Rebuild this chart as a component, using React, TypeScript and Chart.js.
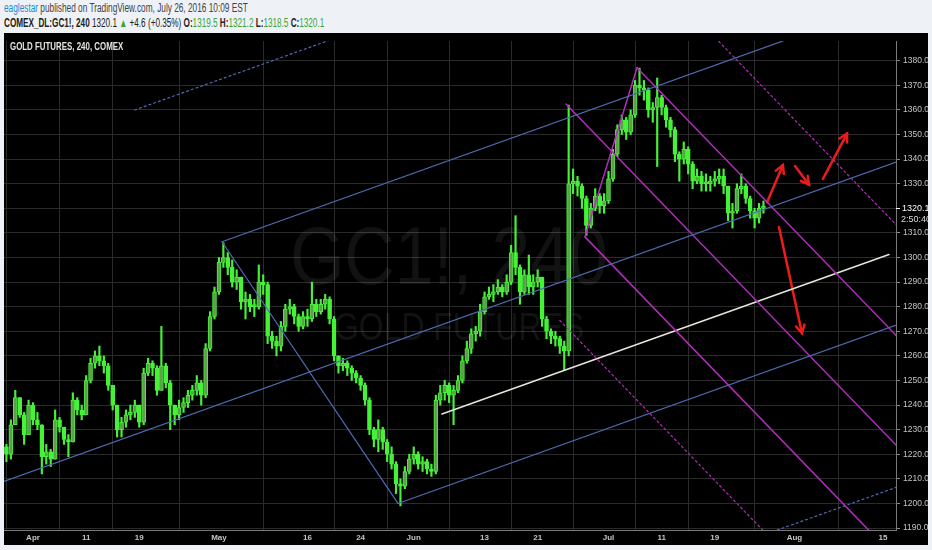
import React, { useEffect, useRef } from "react";
import { Chart, registerables } from "chart.js";

Chart.register(...registerables);

// ---- time axis: trading-session index (0 = Apr 1 2016), two bars per session ----
const barStartIndex = -3;
const barsPerSession = 2;

const firstOpen = 1223;
const closes = [
  1220, 1232, 1243, 1236, 1228, 1240, 1234, 1232, 1219, 1221,
  1218, 1234, 1231, 1226, 1225, 1242, 1238, 1236, 1250, 1257,
  1260, 1258, 1256, 1248, 1240, 1230, 1233, 1236, 1237, 1240,
  1233, 1253, 1257, 1255, 1246, 1256, 1249, 1240, 1236, 1239,
  1241, 1244, 1246, 1249, 1244, 1263, 1276, 1286, 1298, 1300,
  1296, 1290, 1292, 1282, 1283, 1280, 1280, 1290, 1289, 1268,
  1266, 1264, 1272, 1279, 1280, 1276, 1272, 1276, 1275, 1281,
  1278, 1281, 1283, 1275, 1260, 1256, 1257, 1255, 1253, 1251,
  1248, 1242, 1230, 1226, 1230, 1225, 1220, 1216, 1208, 1207,
  1213, 1218, 1220, 1216, 1217, 1214, 1213, 1242, 1245, 1248,
  1244, 1246, 1250, 1258, 1263, 1269, 1270, 1278, 1284, 1285,
  1286, 1288, 1286, 1290, 1302, 1296, 1286, 1293, 1288, 1290,
  1292, 1275, 1270, 1268, 1267, 1264, 1262, 1330, 1331, 1329,
  1324, 1313, 1320, 1325, 1321, 1323, 1332, 1342, 1352, 1356,
  1351, 1358, 1370, 1369, 1368, 1360, 1361, 1365, 1361, 1356,
  1352, 1342, 1340, 1344, 1338, 1331, 1333, 1330, 1330, 1331,
  1332, 1333, 1329, 1318, 1319, 1328, 1329, 1324, 1319, 1316,
  1320, 1320.1,
];
const highs = [
  1224, 1234, 1246, 1243, 1237, 1242, 1241, 1237, 1232, 1224,
  1222, 1238, 1235, 1231, 1228, 1245, 1243, 1240, 1252, 1259,
  1262, 1264, 1260, 1257, 1248, 1240, 1235, 1238, 1240, 1242,
  1240, 1255, 1259, 1258, 1256, 1272, 1257, 1250, 1240, 1242,
  1243, 1246, 1248, 1252, 1250, 1265, 1278, 1288, 1300, 1306,
  1302, 1299, 1295, 1292, 1286, 1285, 1283, 1297, 1293, 1290,
  1270, 1268, 1274, 1281, 1283, 1281, 1277, 1278, 1279, 1290,
  1283, 1283, 1285, 1284, 1276, 1260, 1259, 1258, 1256, 1254,
  1252, 1249, 1243, 1231, 1234, 1231, 1226, 1223, 1217, 1210,
  1215, 1220, 1223, 1221, 1219, 1218, 1216, 1244, 1248, 1250,
  1249, 1248, 1252, 1260, 1266, 1271, 1272, 1281, 1286, 1288,
  1289, 1291, 1289, 1293, 1305, 1317, 1297, 1295, 1301, 1293,
  1295, 1292, 1276, 1271, 1270, 1268, 1266, 1362, 1336, 1333,
  1330, 1325, 1322, 1328, 1326, 1326, 1335, 1344, 1354, 1358,
  1357, 1360, 1372, 1377, 1372, 1369, 1363, 1373, 1366, 1362,
  1357, 1353, 1343, 1347, 1345, 1339, 1336, 1335, 1334, 1333,
  1335, 1336, 1336, 1329, 1322, 1330, 1334, 1330, 1325, 1320,
  1322, 1323,
];
const lows = [
  1217, 1218, 1232, 1235, 1224, 1228, 1232, 1230, 1212, 1216,
  1215, 1218, 1229, 1224, 1219, 1225, 1236, 1234, 1236, 1249,
  1255, 1256, 1253, 1246, 1238, 1227, 1227, 1231, 1234, 1235,
  1231, 1232, 1252, 1252, 1244, 1246, 1247, 1230, 1232, 1234,
  1237, 1239, 1242, 1244, 1240, 1243, 1262, 1275, 1285, 1296,
  1293, 1288, 1287, 1279, 1275, 1278, 1276, 1279, 1285, 1265,
  1263, 1260, 1262, 1270, 1277, 1273, 1270, 1271, 1272, 1274,
  1276, 1277, 1279, 1273, 1258, 1253, 1254, 1252, 1250, 1249,
  1246, 1240, 1228, 1223, 1221, 1222, 1217, 1214, 1204, 1199,
  1206, 1212, 1216, 1214, 1213, 1212, 1211, 1212, 1240, 1242,
  1241, 1232, 1245, 1249, 1257, 1261, 1266, 1268, 1277, 1283,
  1282, 1285, 1284, 1285, 1289, 1293, 1281, 1285, 1285, 1285,
  1288, 1272, 1267, 1265, 1264, 1261, 1254, 1260, 1326, 1325,
  1320, 1309, 1312, 1319, 1318, 1318, 1322, 1331, 1341, 1350,
  1348, 1350, 1357, 1366, 1364, 1357, 1355, 1337, 1358, 1353,
  1349, 1339, 1331, 1338, 1334, 1328, 1330, 1327, 1327, 1327,
  1329, 1330, 1326, 1315, 1312, 1318, 1326, 1322, 1316, 1312,
  1314, 1318,
];

const priceTicks = [
  1190, 1200, 1210, 1220, 1230, 1240, 1250, 1260, 1270, 1280,
  1290, 1300, 1310, 1320, 1330, 1340, 1350, 1360, 1370, 1380,
];
const dateTickIndex = [0, 6, 12, 21, 31, 37, 43, 51, 57, 65, 71, 77, 86, 96];
const dateTickLabels = ["Apr", "11", "19", "May", "16", "24", "Jun", "13", "21", "Jul", "11", "19", "Aug", "15"];

// drawings: [sessionIndex1, price1, sessionIndex2, price2]
const blueLines = [
  [21.35, 1306.4, 98, 1405.2],
  [-3.8, 1208.3, 98, 1339.5],
  [41.22, 1200, 98, 1273.2],
  [21.35, 1306.4, 41.22, 1200],
];
const blueDotted = [
  [11.5, 1360, 35, 1390.3],
  [83, 1187.8, 98, 1207.2],
];
const magentaLines = [
  [62.34, 1308.4, 68.22, 1377.2],
  [68.22, 1377.2, 98, 1266.4],
  [60.2, 1362.4, 98, 1221.8],
  [62.34, 1308.4, 98, 1175.7],
];
const magentaDotted = [
  [59.5, 1274.4, 98, 1131.2],
  [70, 1415.6, 98, 1311.4],
];
const whiteLines = [[46.19, 1236.4, 96.68, 1301.2]];
const redArrows = [
  [82.9, 1322.4, 84.7, 1337.6],
  [86.06, 1337.2, 87.65, 1329.6],
  [89.22, 1332, 91.94, 1350.4],
  [84.25, 1312.4, 86.85, 1269.2],
];

const lastPrice = 1320.1;
const countdown = "2:50:40";

const X_MIN = -3.275;
const X_MAX = 97.47;
const Y_MIN = 1189.2;
const Y_MAX = 1388;

const WICK = "#46f238";
const UP_FILL = "#5f9e4c";
const DOWN_FILL = "#46f238";
const BLUE = "#4f6cb4";
const MAGENTA = "#b42cbc";
const RED = "#ec1c1c";
const FONT = '"Liberation Sans", Arial, sans-serif';

function seg(s: number[], color: string, width: number, dash: number[] = []) {
  return {
    type: "line" as const,
    data: [
      { x: s[0], y: s[1] },
      { x: s[2], y: s[3] },
    ],
    borderColor: color,
    borderWidth: width,
    borderDash: dash,
    borderCapStyle: "round" as const,
    pointRadius: 0,
    fill: false,
    tension: 0,
    order: 0,
  };
}

function scaledText(ctx: CanvasRenderingContext2D, text: string, x: number, y: number, sx: number) {
  ctx.save();
  ctx.translate(x, y);
  ctx.scale(sx, 1);
  ctx.fillText(text, 0, 0);
  ctx.restore();
}

const overlayPlugin = {
  id: "overlay",
  beforeDatasetsDraw(chart: any) {
    const { ctx, chartArea } = chart;
    ctx.save();
    ctx.beginPath();
    ctx.rect(chartArea.left, chartArea.top, chartArea.right - chartArea.left, chartArea.bottom - chartArea.top);
    ctx.clip();
    ctx.fillStyle = "rgba(255,255,255,0.07)";
    ctx.textAlign = "center";
    ctx.textBaseline = "alphabetic";
    ctx.font = `82px ${FONT}`;
    scaledText(ctx, "GC1!, 240", 445, 251, 0.85);
    ctx.font = `38px ${FONT}`;
    scaledText(ctx, "GOLD FUTURES", 455, 307, 0.84);
    ctx.restore();
  },
  afterDatasetsDraw(chart: any) {
    const { ctx, scales } = chart;
    const xs = scales.x;
    const ys = scales.y;
    ctx.save();
    ctx.strokeStyle = RED;
    ctx.lineWidth = 2.5;
    ctx.lineCap = "round";
    for (const a of redArrows) {
      const x1 = xs.getPixelForValue(a[0]);
      const y1 = ys.getPixelForValue(a[1]);
      const x2 = xs.getPixelForValue(a[2]);
      const y2 = ys.getPixelForValue(a[3]);
      const ang = Math.atan2(y2 - y1, x2 - x1);
      const len = 9;
      const spread = 0.5;
      ctx.beginPath();
      ctx.moveTo(x2 - len * Math.cos(ang - spread), y2 - len * Math.sin(ang - spread));
      ctx.lineTo(x2, y2);
      ctx.lineTo(x2 - len * Math.cos(ang + spread), y2 - len * Math.sin(ang + spread));
      ctx.stroke();
    }
    ctx.restore();
  },
  afterDraw(chart: any) {
    const { ctx, scales } = chart;
    const ys = scales.y;
    ctx.save();
    ctx.fillStyle = "#e4e4e4";
    ctx.textAlign = "left";
    ctx.textBaseline = "alphabetic";
    ctx.font = `bold 10px ${FONT}`;
    scaledText(ctx, "GOLD FUTURES, 240, COMEX", 6, 17, 0.79);
    const py = ys.getPixelForValue(lastPrice);
    ctx.strokeStyle = "#ffffff";
    ctx.lineWidth = 1;
    ctx.beginPath();
    ctx.moveTo(ys.left, Math.round(py) + 0.5);
    ctx.lineTo(ys.left + 4, Math.round(py) + 0.5);
    ctx.stroke();
    ctx.fillStyle = "#ffffff";
    ctx.textBaseline = "middle";
    ctx.font = `9px ${FONT}`;
    ctx.fillText(lastPrice.toFixed(1), ys.left + 6, py);
    ctx.fillStyle = "#dcdcdc";
    ctx.fillText(countdown, ys.left + 5, py + 11);
    ctx.restore();
  },
};

export default function App() {
  const ref = useRef<HTMLCanvasElement | null>(null);

  useEffect(() => {
    if (!ref.current) return;
    const opens = closes.map((c, i) => (i === 0 ? firstOpen : closes[i - 1]));
    const times = closes.map((_, i) => barStartIndex + i / barsPerSession);
    const wickData = times.map((x, i) => ({ x, y: [lows[i], highs[i]] }));
    const bodyData = times.map((x, i) => ({ x, y: [opens[i], closes[i]] }));
    const bodyFill = closes.map((c, i) => (c >= opens[i] ? UP_FILL : DOWN_FILL));

    const datasets: any[] = [
      ...blueLines.map((s) => seg(s, BLUE, 1.2)),
      ...blueDotted.map((s) => seg(s, BLUE, 1.2, [2, 3])),
      ...magentaLines.map((s) => seg(s, MAGENTA, 1.5)),
      ...magentaDotted.map((s) => seg(s, MAGENTA, 1.2, [2, 3])),
      ...whiteLines.map((s) => seg(s, "#e6e6dc", 1.5)),
      ...redArrows.map((s) => seg(s, RED, 2.5)),
      {
        type: "bar",
        data: bodyData,
        backgroundColor: bodyFill,
        borderColor: WICK,
        borderWidth: 1,
        borderSkipped: false,
        barThickness: 4,
        minBarLength: 2,
        grouped: false,
        order: 1,
      },
      {
        type: "bar",
        data: wickData,
        backgroundColor: WICK,
        borderWidth: 0,
        barThickness: 1.5,
        grouped: false,
        order: 2,
      },
    ];

    const chart = new Chart(ref.current, {
      type: "bar",
      data: { datasets },
      plugins: [overlayPlugin],
      options: {
        responsive: false,
        animation: false,
        devicePixelRatio: 1,
        layout: { padding: 0 },
        plugins: { legend: { display: false }, tooltip: { enabled: false } },
        scales: {
          x: {
            type: "linear",
            min: X_MIN,
            max: X_MAX,
            offset: false,
            afterBuildTicks: (s: any) => {
              s.ticks = dateTickIndex.map((v) => ({ value: v }));
            },
            afterFit: (s: any) => {
              s.height = 15;
            },
            ticks: {
              autoSkip: false,
              maxRotation: 0,
              color: "#c4c4c4",
              padding: 3,
              font: { family: FONT, size: 8, weight: "bold" },
              callback: (v: any) => {
                const i = dateTickIndex.indexOf(Number(v));
                return i >= 0 ? dateTickLabels[i] : "";
              },
            },
            grid: { color: "#2b2b2b", drawTicks: false },
            border: { color: "#7a7a7a" },
          },
          y: {
            type: "linear",
            position: "right",
            min: Y_MIN,
            max: Y_MAX,
            afterBuildTicks: (s: any) => {
              s.ticks = priceTicks.map((v) => ({ value: v }));
            },
            afterFit: (s: any) => {
              s.width = 32;
            },
            ticks: {
              color: "#c4c4c4",
              padding: 3,
              font: { family: FONT, size: 8.5 },
              callback: (v: any) => (Number(v) === 1320 ? "" : Number(v).toFixed(1)),
            },
            grid: { color: "#2b2b2b", tickColor: "#8a8a8a", tickLength: 4, drawTicks: true },
            border: { color: "#7a7a7a" },
          },
        },
      } as any,
    });
    return () => chart.destroy();
  }, []);

  const green = "#3aa63a";
  return (
    <div
      style={{
        position: "fixed",
        left: 0,
        top: 0,
        width: 932,
        height: 550,
        background: "#eef1f5",
        overflow: "hidden",
        fontFamily: FONT,
      }}
    >
      <div
        style={{
          position: "absolute",
          left: 4,
          top: 1,
          fontSize: 12,
          lineHeight: "14px",
          whiteSpace: "nowrap",
          color: "#444",
          transform: "scaleX(0.69)",
          transformOrigin: "0 0",
        }}
      >
        <span style={{ color: "#1e8ad4" }}>eaglestar</span> published on TradingView.com, July 26, 2016 10:09 EST
      </div>
      <div
        style={{
          position: "absolute",
          left: 4,
          top: 16,
          fontSize: 12,
          lineHeight: "14px",
          whiteSpace: "nowrap",
          color: "#222",
          transform: "scaleX(0.68)",
          transformOrigin: "0 0",
        }}
      >
        <b>COMEX_DL:GC1!, 240</b> 1320.1 <span style={{ color: green }}>▲</span> +4.6 (+0.35%){" "}
        <b>O:</b>
        <span style={{ color: green }}>1319.5</span> <b>H:</b>
        <span style={{ color: green }}>1321.2</span> <b>L:</b>
        <span style={{ color: green }}>1318.5</span> <b>C:</b>
        <span style={{ color: green }}>1320.1</span>
      </div>
      <canvas
        ref={ref}
        width={924}
        height={512}
        style={{ position: "absolute", left: 4, top: 33, width: 924, height: 512, background: "#000" }}
      />
    </div>
  );
}
